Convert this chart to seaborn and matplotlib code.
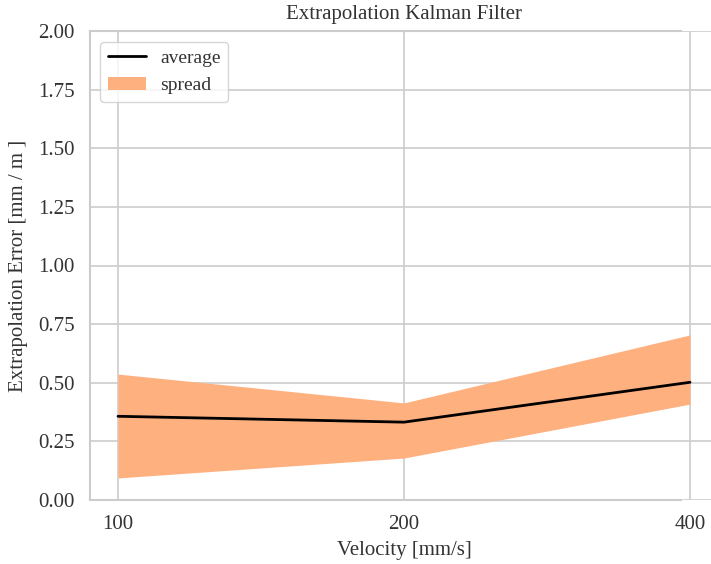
import matplotlib
matplotlib.use("Agg")
import matplotlib.pyplot as plt
import seaborn as sns
import pandas as pd

velocities = ["100", "200", "400"]
average = [0.357, 0.332, 0.502]
spread_low = [0.094, 0.179, 0.409]
spread_high = [0.537, 0.414, 0.704]

sns.set_theme(style="whitegrid")
plt.rcParams["font.family"] = ["Liberation Serif", "DejaVu Serif"]

W, H, DPI = 711, 564, 100
fig = plt.figure(figsize=(W / DPI, H / DPI), dpi=DPI)
left, right, top, bottom = 90, 718, 31, 500
ax = fig.add_axes([left / W, 1 - bottom / H, (right - left) / W, (bottom - top) / H])

df = pd.DataFrame({"Velocity": velocities, "average": average,
                   "low": spread_low, "high": spread_high})

ax.fill_between(df["Velocity"], df["low"], df["high"], color="#ffb07f",
                linewidth=0, label="spread", zorder=2)
sns.lineplot(data=df, x="Velocity", y="average", color="black", linewidth=2,
             label="average", ax=ax, zorder=3)

ax.set_xlim(-0.098, 2.098)
ax.set_ylim(0, 2)
ax.set_yticks([0, 0.25, 0.5, 0.75, 1.0, 1.25, 1.5, 1.75, 2.0])
ax.set_yticklabels([f"{v:.2f}" for v in ax.get_yticks()])
ax.tick_params(labelsize=15, colors="#333333", pad=5)
ax.set_xlabel("Velocity [mm/s]", fontsize=15, color="#333333", labelpad=5)
ax.set_ylabel("Extrapolation Error [mm / m ]", fontsize=15, color="#333333", labelpad=7)
ax.set_title("Extrapolation Kalman Filter", fontsize=15, color="#333333", pad=9)

for s in ["left", "top", "bottom"]:
    ax.spines[s].set_visible(True)
    ax.spines[s].set_color("#cccccc")
    ax.spines[s].set_linewidth(1.5)
ax.spines["right"].set_visible(False)
ax.spines["top"].set_bounds(-0.098, 1.969)
ax.spines["bottom"].set_bounds(-0.098, 1.969)
ax.grid(True, color="#cccccc", linewidth=1.2)

handles, labels = ax.get_legend_handles_labels()
order = [labels.index("average"), labels.index("spread")]
leg = ax.legend([handles[i] for i in order], [labels[i] for i in order],
                loc="upper left", fontsize=14, frameon=True,
                bbox_to_anchor=(0.0, 0.998), handletextpad=0.7)
leg.get_frame().set_edgecolor("#cccccc")
for t in leg.get_texts():
    t.set_color("#333333")

fig.savefig("out.png", dpi=DPI)
